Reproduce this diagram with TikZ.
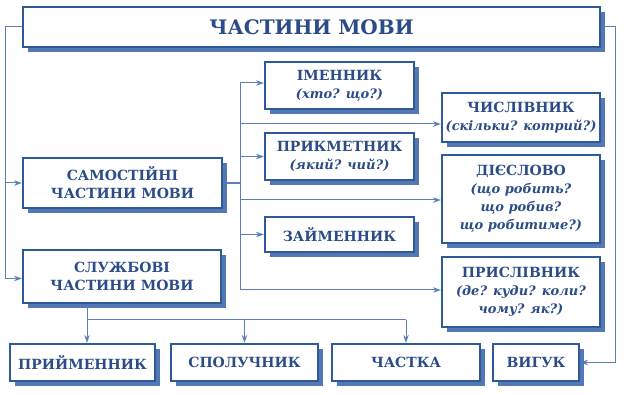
\documentclass[tikz,border=0pt]{standalone}
\usepackage{fontspec}
\setmainfont{DejaVu Serif}
\usetikzlibrary{arrows.meta,shadows,backgrounds}
\definecolor{boxblue}{HTML}{2E5A9A}
\definecolor{txtblue}{HTML}{2C4C88}
\definecolor{shblue}{HTML}{5478B4}
\definecolor{lnblue}{HTML}{5B7FB8}
\tikzset{
  box/.style={draw=boxblue,line width=2.2pt,fill=white,text=txtblue,
    font=\bfseries\fontsize{14}{18}\selectfont,align=center,inner sep=0pt,
    drop shadow={shadow xshift=5pt,shadow yshift=-5pt,fill=shblue,opacity=1}},
  link/.style={draw=lnblue,line width=1pt},
  arr/.style={link,-{Stealth[length=8pt,width=5.5pt]}},
}
\newcommand{\qq}[1]{{\itshape\fontsize{13}{18}\selectfont #1}}
\begin{document}
\begin{tikzpicture}[x=1pt,y=-1pt]
  \useasboundingbox (0,0) rectangle (624,395);
  % заголовок
  \node[box,line width=2.8pt,minimum width=577pt,minimum height=40pt,
    font=\bfseries\fontsize{20}{24}\selectfont] (title) at (311.5,27) {ЧАСТИНИ МОВИ};
  % дві групи
  \node[box,minimum width=199pt,minimum height=50pt] (samost) at (122.5,183) {САМОСТІЙНІ\\ЧАСТИНИ МОВИ};
  \node[box,minimum width=198pt,minimum height=53pt] (sluzh) at (122,276.5) {СЛУЖБОВІ\\ЧАСТИНИ МОВИ};
  % самостійні
  \node[box,minimum width=149pt,minimum height=47pt] (imen) at (339.5,85.5) {ІМЕННИК\\\qq{(хто? що?)}};
  \node[box,minimum width=149pt,minimum height=47pt] (prykm) at (339.5,156.5) {ПРИКМЕТНИК\\\qq{(який? чий?)}};
  \node[box,minimum width=149pt,minimum height=35pt] (zaim) at (339.5,234.5) {ЗАЙМЕННИК};
  \node[box,minimum width=158pt,minimum height=49pt] (chysl) at (521,117.5) {ЧИСЛІВНИК\\\qq{(скільки? котрий?)}};
  \node[box,minimum width=158pt,minimum height=88pt] (diesl) at (521,199) {ДІЄСЛОВО\\\qq{(що робить?}\\\qq{що робив?}\\\qq{що робитиме?)}};
  \node[box,minimum width=158pt,minimum height=70pt] (prysl) at (521,292) {ПРИСЛІВНИК\\\qq{(де? куди? коли?}\\\qq{чому? як?)}};
  % службові та вигук
  \node[box,minimum width=145pt,minimum height=37pt] (pryim) at (82.5,362.5) {ПРИЙМЕННИК};
  \node[box,minimum width=147pt,minimum height=37pt] (spol) at (244.5,362.5) {СПОЛУЧНИК};
  \node[box,minimum width=148pt,minimum height=37pt] (chast) at (406,362.5) {ЧАСТКА};
  \node[box,minimum width=86pt,minimum height=37pt] (vyhuk) at (536,362.5) {ВИГУК};
  % лінії
  \coordinate (lbus) at (5,0);
  \coordinate (rbus) at (615,0);
  \coordinate (spine) at (240,0);
  \coordinate (bus) at (0,320);
  \begin{scope}[on background layer]
    \draw[link] (title.west) -| (lbus |- samost.west);
    \draw[arr] (lbus |- samost.west) -- (samost.west);
    \draw[arr] (lbus |- samost.west) |- ([yshift=-2pt]sluzh.west);
    \draw[arr] (title.east) -| (rbus |- vyhuk.east) -- (vyhuk.east);
    \draw[link,line width=2pt] (samost.east) -- (spine |- samost.east);
    \draw[link] (spine |- 0,83) -- (spine |- 0,290);
    \draw[arr] (spine |- 0,83) -- (imen.west |- 0,83);
    \draw[arr] (spine |- 0,124) -- (chysl.west |- 0,124);
    \draw[arr] (spine |- prykm.west) -- (prykm.west);
    \draw[arr] (spine |- 0,200) -- (diesl.west |- 0,200);
    \draw[arr] (spine |- zaim.west) -- (zaim.west);
    \draw[arr] (spine |- 0,290) -- (prysl.west |- 0,290);
    \draw[arr] (sluzh.south -| 87,0) -- (pryim.north -| 87,0);
    \draw[link] (87,0 |- bus) -- (chast |- bus);
    \draw[arr] (spol |- bus) -- (spol.north);
    \draw[arr] (chast |- bus) -- (chast.north);
  \end{scope}
\end{tikzpicture}
\end{document}
